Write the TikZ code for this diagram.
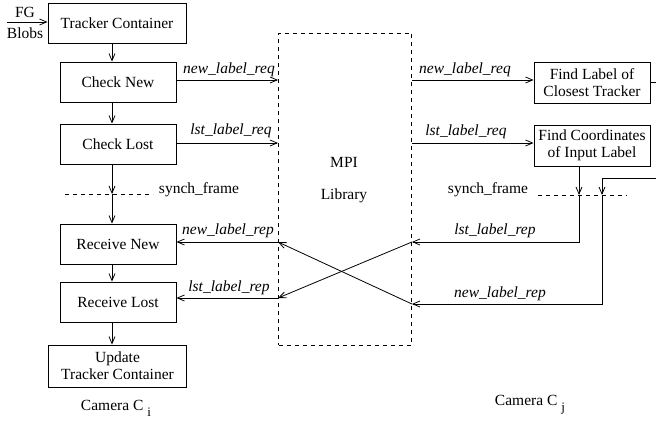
\documentclass[tikz,border=0pt]{standalone}
\usepackage{fontspec}
\setmainfont{Liberation Serif}
\usetikzlibrary{arrows.meta,calc}

\tikzset{
  >={Straight Barb[length=7pt,width=6pt]},
  proc/.style={draw, line width=0.9pt, minimum width=116pt, minimum height=40pt,
    inner sep=1pt, align=center, font=\fontsize{15.5}{17}\selectfont},
  wide/.style={proc, minimum width=138pt},
  lbl/.style={inner sep=0pt, font=\fontsize{15.5}{17}\selectfont\itshape},
  txt/.style={inner sep=0pt, font=\fontsize{15.5}{17}\selectfont},
  sync/.style={dash pattern=on 4pt off 4pt},
}

\begin{document}
\begin{tikzpicture}[x=1pt, y=-1pt, line width=0.8pt]
\useasboundingbox (0,0) rectangle (656,431);
\clip (0,0) rectangle (656,431);

% ---------- camera C_i ----------
\node[wide] (tc) at (117,23.5) {Tracker Container};
\node[proc] (cn) at (118,82) {Check New};
\node[proc] (cl) at (118,144) {Check Lost};
\node[proc] (rn) at (118,244) {Receive New};
\node[proc] (rl) at (118,302) {Receive Lost};
\node[wide, minimum height=42pt] (up) at (117.5,366) {Update\\Tracker Container};

\node[txt] (fg) at (25,12) {FG};
\node[txt] (blobs) at (25,33) {Blobs};
\coordinate (in) at (7,22);
\draw[->] (in) -- (tc.west |- in);

\coordinate (colL) at (112,0);
\coordinate (sL) at (112,194);
\coordinate (sL1) at (65,194);
\coordinate (sL2) at (153,194);
\draw[sync] (sL1) -- (sL2);
\node[txt] (synL) at (199,190) {synch\_frame};

\draw[->] (tc.south -| colL) -- (cn.north -| colL);
\draw[->] (cn.south -| colL) -- (cl.north -| colL);
\draw[->] (cl.south -| colL) -- (sL);
\draw[->] (sL) -- (rn.north -| colL);
\draw[->] (rn.south -| colL) -- (rl.north -| colL);
\draw[->] (rl.south -| colL) -- (up.north -| colL);

\node[txt] (camI) at (116,408) {Camera C\hspace{4pt}\raisebox{-6pt}{\fontsize{13}{13}\selectfont i}};

% ---------- MPI library ----------
\node[draw, sync, line width=0.9pt, minimum width=133pt, minimum height=312pt, inner sep=0pt]
  (mpi) at (345,189) {};
\node[txt] (mpiT) at (344,162) {MPI};
\node[txt] (libT) at (344,196) {Library};

% ---------- camera C_j ----------
\node[proc, minimum height=41pt] (fl) at (592,82.5) {Find Label of\\Closest Tracker};
\node[proc, minimum height=41pt] (fc) at (592,145.5) {Find Coordinates\\of Input Label};

\coordinate (sR1) at (538,195);
\coordinate (sR2) at (627,195);
\draw[sync] (sR1) -- (sR2);
\node[txt] (synR) at (488,190) {synch\_frame};

\node[txt] (camJ) at (530,405) {Camera C\hspace{4pt}\raisebox{-6pt}{\fontsize{13}{13}\selectfont j}};

% ---------- requests ----------
\coordinate (q1) at (0,80);
\coordinate (q2) at (0,143);
\draw[->] (cn.east |- q1) -- (mpi.west |- q1);
\draw[->] (cl.east |- q2) -- (mpi.west |- q2);
\draw[->] (mpi.east |- q1) -- (fl.west |- q1);
\draw[->] (mpi.east |- q2) -- (fc.west |- q2);
\node[lbl] (lq1) at (229,70) {new\_label\_req};
\node[lbl] (lq2) at (231,131) {lst\_label\_req};
\node[lbl] (rq1) at (465,70) {new\_label\_req};
\node[lbl] (rq2) at (466,132) {lst\_label\_req};

% ---------- replies ----------
\coordinate (sA) at (579,195);
\coordinate (ra) at (579,242);
\coordinate (farR) at (668,178);
\coordinate (rb) at (602,178);
\coordinate (sB) at (602,195);
\coordinate (rb2) at (602,304);

\draw[->] (fc.south -| sA) -- (sA);
\draw[->] (sA) -- (ra) -- (mpi.east |- ra);
\draw (fl.east) -| (farR) -- (rb);
\draw[->] (rb) -- (sB);
\draw[->] (sB) -- (rb2) -- (mpi.east |- rb2);

\coordinate (p1) at (0,242);
\coordinate (p2) at (0,298);
\draw[->] (mpi.east |- ra) -- (mpi.west |- p2);
\draw[->] (mpi.east |- rb2) -- (mpi.west |- p1);
\draw[->] (mpi.west |- p1) -- (rn.east |- p1);
\draw[->] (mpi.west |- p2) -- (rl.east |- p2);

\node[lbl] (lp1) at (228,231) {new\_label\_rep};
\node[lbl] (lp2) at (229,288) {lst\_label\_rep};
\node[lbl] (rp1) at (495,231) {lst\_label\_rep};
\node[lbl] (rp2) at (500,294) {new\_label\_rep};
\end{tikzpicture}
\end{document}
